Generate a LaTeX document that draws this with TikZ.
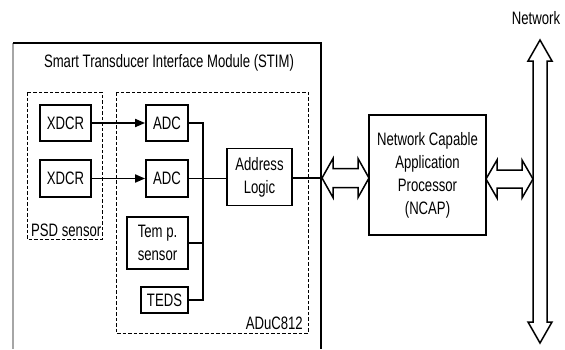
\documentclass[tikz,border=0pt]{standalone}
\usepackage{fontspec}
\setmainfont{Liberation Sans}[FakeStretch=0.73]
\usetikzlibrary{arrows.meta,calc}
\begin{document}
\begin{tikzpicture}[x=1pt,y=-1pt,
  font=\fontsize{18}{23}\selectfont,
  box/.style={draw,line width=1.8pt,align=center,inner sep=0pt},
  dbox/.style={draw,line width=1pt,dash pattern=on 3.5pt off 2pt},
  wire/.style={line width=1.8pt},
  sig/.style={line width=1.8pt,-{Triangle[length=10pt,width=8pt]}},
  hollow/.style={draw,line width=1.5pt,fill=white,line join=miter}]
\useasboundingbox (0,0) rectangle (565,349);
% STIM container
\draw[gray!70,line width=1.3pt] (13,349) -- (13,43);
\draw[line width=1.8pt] (13,43) -- (321,43) -- (321,349);
\node (stim) at (169,63) {Smart Transducer Interface Module (STIM)};
% dashed groups
\draw[dbox] (27,92) rectangle (102,239);
\node[anchor=south west,inner sep=0pt] (psd) at (31,237) {PSD sensor};
\draw[dbox] (116,92) rectangle (308,333);
\node[anchor=south east,inner sep=0pt] (aduc) at (303,330) {ADuC812};
% blocks
\node[box,minimum width=51,minimum height=36] (x1) at (65.5,123) {XDCR};
\node[box,minimum width=51,minimum height=37] (x2) at (65.5,178.5) {XDCR};
\node[box,minimum width=42,minimum height=36] (a1) at (167,123) {ADC};
\node[box,minimum width=42,minimum height=37] (a2) at (167,178.5) {ADC};
\node[box,minimum width=65,minimum height=57] (addr) at (259.5,177) {Address\\Logic};
\node[box,minimum width=61,minimum height=52] (temp) at (157.5,243) {Tem p.\\sensor};
\node[box,minimum width=47,minimum height=26] (teds) at (164.5,300) {TEDS};
\node[box,minimum width=117,minimum height=120] (ncap) at (427.5,175) {Network Capable\\Application\\Processor\\(NCAP)};
% connectors
\draw[sig] (x1) -- (a1);
\draw[sig] (x2) -- (a2);
\coordinate (bus) at (203,0);
\draw[wire] (a1.east) -- (a1.east -| bus) -- (teds.east -| bus) -- (teds.east);
\draw[wire] (a2.east) -- (a2.east -| addr.west);
\draw[wire] (temp.east) -- (temp.east -| bus);
\coordinate (stimR) at (322,178);
\draw[wire] (addr.east |- stimR) -- (stimR);
% hollow double arrows
\draw[hollow] (stimR) -- ++(11,-19.5) -- ++(0,10) -- ++(25,0) -- ++(0,-10) -- ++(11,19.5)
  -- ++(-11,19.5) -- ++(0,-10) -- ++(-25,0) -- ++(0,10) -- cycle;
\coordinate (n2) at (486,179);
\draw[hollow] (n2) -- ++(11,-19) -- ++(0,10) -- ++(25,0) -- ++(0,-10) -- ++(11,19)
  -- ++(-11,19) -- ++(0,-10) -- ++(-25,0) -- ++(0,10) -- cycle;
\coordinate (nt) at (540,40);
\draw[hollow] (nt) -- ++(12,21) -- ++(-5,0) -- ++(0,261) -- ++(5,0) -- ++(-12,21)
  -- ++(-12,-21) -- ++(5,0) -- ++(0,-261) -- ++(-5,0) -- cycle;
\node (net) at (536,18) {Network};
\end{tikzpicture}
\end{document}
